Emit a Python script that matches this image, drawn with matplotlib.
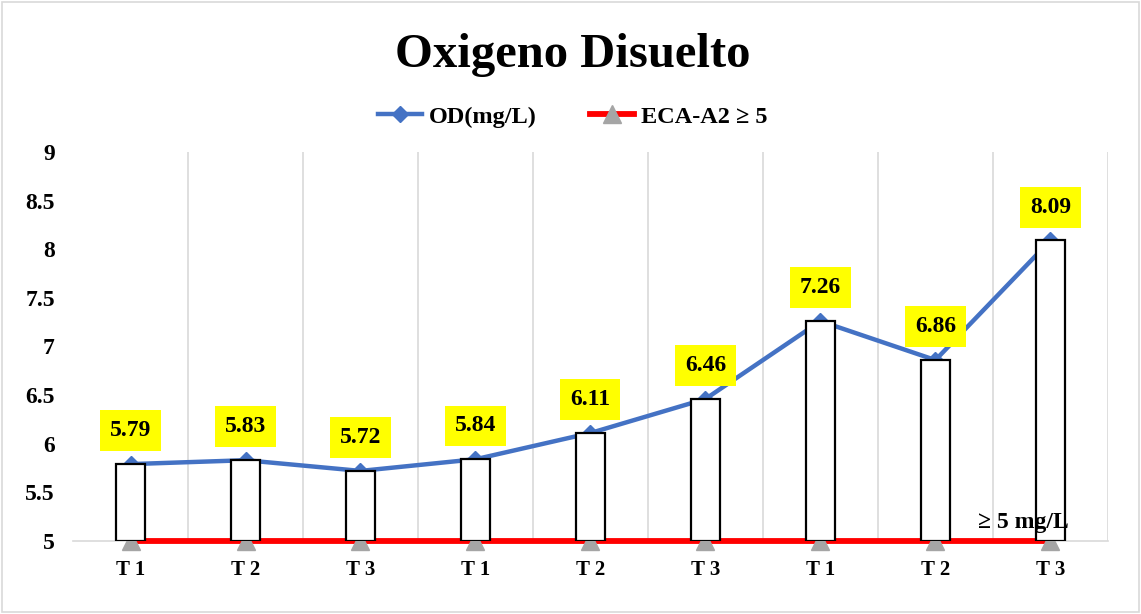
import matplotlib
matplotlib.use("Agg")
import matplotlib.pyplot as plt
from matplotlib.lines import Line2D
from matplotlib.patches import Rectangle

# Dissolved oxygen per sampling point
categories = ["T 1", "T 2", "T 3", "T 1", "T 2", "T 3", "T 1", "T 2", "T 3"]
od_values = [5.79, 5.83, 5.72, 5.84, 6.11, 6.46, 7.26, 6.86, 8.09]
eca_limit = [5, 5, 5, 5, 5, 5, 5, 5, 5]
y_ticks = [5, 5.5, 6, 6.5, 7, 7.5, 8, 8.5, 9]
y_tick_labels = ["5", "5.5", "6", "6.5", "7", "7.5", "8", "8.5", "9"]

SERIF = ["Liberation Serif", "DejaVu Serif"]
plt.rcParams["font.family"] = SERIF
plt.rcParams["font.weight"] = "bold"

BLUE = "#4472C4"
RED = "#FF0000"
GRAY = "#A5A5A5"

fig = plt.figure(figsize=(11.41, 6.14), dpi=100)
fig.patch.set_facecolor("white")
fig.add_artist(Rectangle((0.002, 0.003), 0.996, 0.994, transform=fig.transFigure,
                         fill=False, edgecolor="#D9D9D9", linewidth=1.2))

ax = fig.add_axes([0.064, 0.119, 0.907, 0.6335])
x = list(range(len(categories)))
base = y_ticks[0]

# Reference limit line and measured series (below the bars)
ax.plot(x, eca_limit, color=RED, linewidth=4.2, marker="^", markersize=13,
        markerfacecolor=GRAY, markeredgecolor=GRAY, zorder=2.6, clip_on=False)
ax.plot(x, od_values, color=BLUE, linewidth=3.2, marker="D", markersize=8,
        markerfacecolor=BLUE, markeredgecolor=BLUE, zorder=2.6, clip_on=False)

# White bars from the baseline up to each value
ax.bar(x, [v - base for v in od_values], bottom=base, width=0.245,
       facecolor="white", edgecolor="black", linewidth=1.6, zorder=3)

for xi, v in zip(x, od_values):
    ax.annotate(f"{v:.2f}", (xi, v), xytext=(0, 24), textcoords="offset points",
                ha="center", va="center", fontsize=17, fontweight="bold",
                bbox=dict(boxstyle="square,pad=0.42", facecolor="#FFFF00",
                          edgecolor="none"), zorder=5)

ax.set_xlim(-0.5, len(categories) - 0.5)
ax.set_ylim(y_ticks[0], y_ticks[-1])
ax.set_yticks(y_ticks)
ax.set_yticklabels(y_tick_labels, fontsize=17, fontweight="bold")
ax.set_xticks(x)
ax.set_xticklabels(categories, fontsize=15, fontweight="bold")
ax.tick_params(axis="both", length=0)
ax.tick_params(axis="y", pad=13)
ax.tick_params(axis="x", pad=14)

for b in [i + 0.5 for i in x]:
    ax.axvline(b, color="#D9D9D9", linewidth=1.2, zorder=1)

for s in ["left", "right", "top"]:
    ax.spines[s].set_visible(False)
ax.spines["bottom"].set_color("#D9D9D9")
ax.spines["bottom"].set_linewidth(1.2)
ax.spines["bottom"].set_zorder(1)

ax.text(7.37, 5.185, "\u2265 5 mg/L", fontsize=17, fontweight="bold",
        ha="left", va="center", zorder=4)

fig.text(0.502, 0.891, "Oxigeno Disuelto", ha="center", va="baseline",
         fontsize=35, fontweight="bold")

handles = [
    Line2D([], [], color=BLUE, linewidth=3.2, marker="D", markersize=8),
    Line2D([], [], color=RED, linewidth=4.2, marker="^", markersize=13,
           markerfacecolor=GRAY, markeredgecolor=GRAY),
]
fig.legend(handles, ["OD(mg/L)", "ECA-A2 \u2265 5"], loc="center",
           bbox_to_anchor=(0.502, 0.81), ncol=2, frameon=False,
           prop={"size": 17.5, "weight": "bold"}, handlelength=1.8,
           columnspacing=2.2, handletextpad=0.3)

fig.savefig("out.png", dpi=100)
